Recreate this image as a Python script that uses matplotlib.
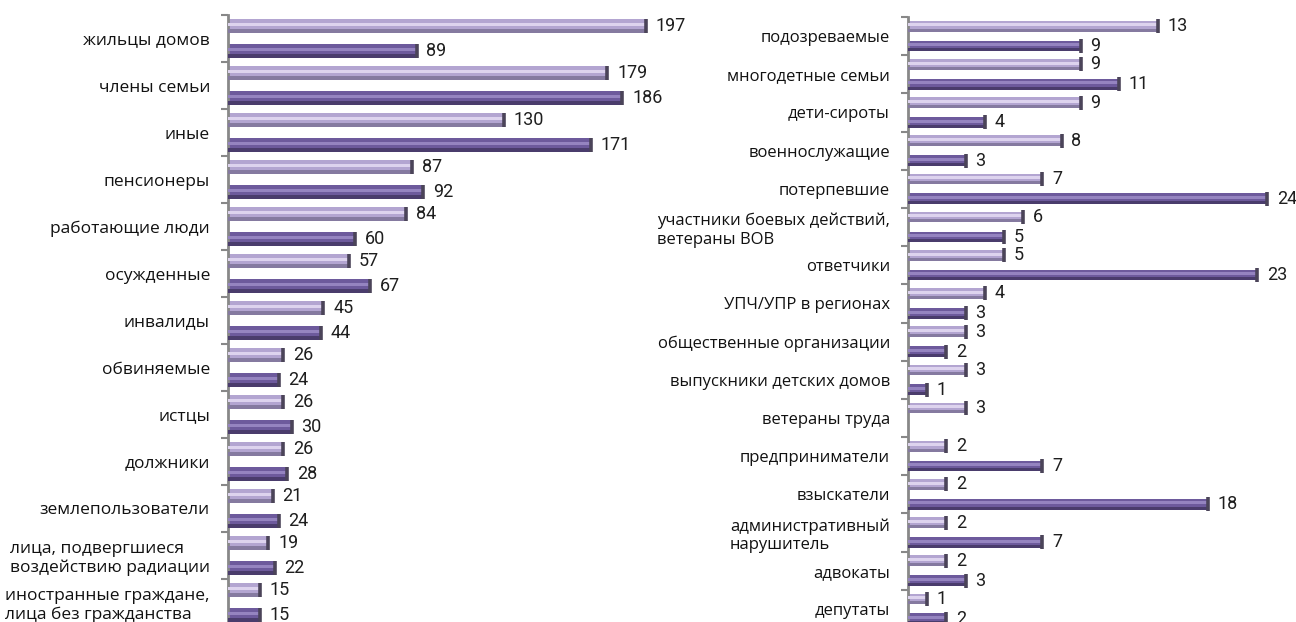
import numpy as np
import matplotlib
matplotlib.use('Agg')
import matplotlib.pyplot as plt

# left panel
left_labels = ['жильцы домов', 'члены семьи', 'иные', 'пенсионеры', 'работающие люди',
               'осужденные', 'инвалиды', 'обвиняемые', 'истцы', 'должники',
               'землепользователи', 'лица, подвергшиеся\nвоздействию радиации',
               'иностранные граждане,\nлица без гражданства']
left_first = [197, 179, 130, 87, 84, 57, 45, 26, 26, 26, 21, 19, 15]
left_second = [89, 186, 171, 92, 60, 67, 44, 24, 30, 28, 24, 22, 15]

# right panel
right_labels = ['подозреваемые', 'многодетные семьи', 'дети-сироты', 'военнослужащие',
                'потерпевшие', 'участники боевых действий,\nветераны ВОВ', 'ответчики',
                'УПЧ/УПР в регионах', 'общественные организации', 'выпускники детских домов',
                'ветераны труда', 'предприниматели', 'взыскатели',
                'административный\nнарушитель', 'адвокаты', 'депутаты']
right_first = [13, 9, 9, 8, 7, 6, 5, 4, 3, 3, 3, 2, 2, 2, 2, 1]
right_second = [9, 11, 4, 3, 24, 5, 23, 3, 2, 1, None, 7, 18, 7, 3, 2]

LIGHT = ('#b3a5d1', '#ddd3ee', '#857aa0')
DARK = ('#6d5a9c', '#9584c0', '#4a3c6c')
CAP = '#4b4459'
LABEL_FONT = 'Open Sans'
VALUE_FONT = 'Roboto'


def draw_series(ax, ypos, values, colors, h):
    y = np.array([p for p, v in zip(ypos, values) if v is not None], dtype=float)
    v = np.array([v for v in values if v is not None], dtype=float)
    base, hi, lo = colors
    # body, highlight stripe and shaded lower edge give the tube look
    ax.barh(y, v, height=h, color=base, zorder=2)
    ax.barh(y - h * 0.12, v, height=h * 0.28, color=hi, zorder=3)
    ax.barh(y + h * 0.36, v, height=h * 0.28, color=lo, zorder=3)
    ax.scatter(v, y, marker='|', s=110, linewidths=2.6, color=CAP, zorder=4)
    for yy, vv in zip(y, v):
        ax.annotate('%d' % vv, (vv, yy), xytext=(7, 0), textcoords='offset points',
                    va='center', ha='left', fontsize=13, family=VALUE_FONT,
                    color='#1e1e1e')


def style_axis(ax, labels, size):
    n = len(labels)
    ax.set_ylim(n - 0.5, -0.5)
    ax.set_yticks(np.arange(n))
    ax.set_yticklabels(labels, fontsize=size, family=LABEL_FONT, color='#111111',
                       multialignment='left')
    ax.set_yticks(np.arange(n + 1) - 0.5, minor=True)
    ax.tick_params(axis='y', which='major', length=0, pad=13)
    ax.tick_params(axis='y', which='minor', length=5, width=1.5, color='#888888')
    for s in ['top', 'right', 'bottom']:
        ax.spines[s].set_visible(False)
    ax.spines['left'].set_color('#888888')
    ax.spines['left'].set_linewidth(2)
    ax.set_xticks([])
    ax.patch.set_alpha(0)


W, H = 1296, 622
fig = plt.figure(figsize=(W / 100, H / 100), dpi=100)

# left: bars start at x=228, 2.12 px per unit
ax1 = fig.add_axes([228 / W, -4 / H, 472 / W, 611 / H])
n1 = len(left_labels)
pos1 = np.arange(n1)
h = 0.28
draw_series(ax1, pos1 - 0.265, left_first, LIGHT, h)
draw_series(ax1, pos1 + 0.265, left_second, DARK, h)
ax1.set_xlim(0, 472 / 2.12)
style_axis(ax1, left_labels, 12.5)


# right: long bars are compressed past 13
def fwd(v):
    v = np.asarray(v, dtype=float)
    return np.where(v <= 13, v, 13 + (v - 13) * 0.52)


def inv(u):
    u = np.asarray(u, dtype=float)
    return np.where(u <= 13, u, 13 + (u - 13) / 0.52)


ax2 = fig.add_axes([908 / W, -6 / H, 382 / W, 611 / H])
ax2.set_xscale('function', functions=(fwd, inv))
n2 = len(right_labels)
pos2 = np.arange(n2)
draw_series(ax2, pos2 - 0.26, right_first, LIGHT, h)
draw_series(ax2, pos2 + 0.26, right_second, DARK, h)
ax2.set_xlim(0, 13 + (382 / 19.2 - 13) / 0.52)
style_axis(ax2, right_labels, 12)

fig.savefig('out.png', dpi=100)
